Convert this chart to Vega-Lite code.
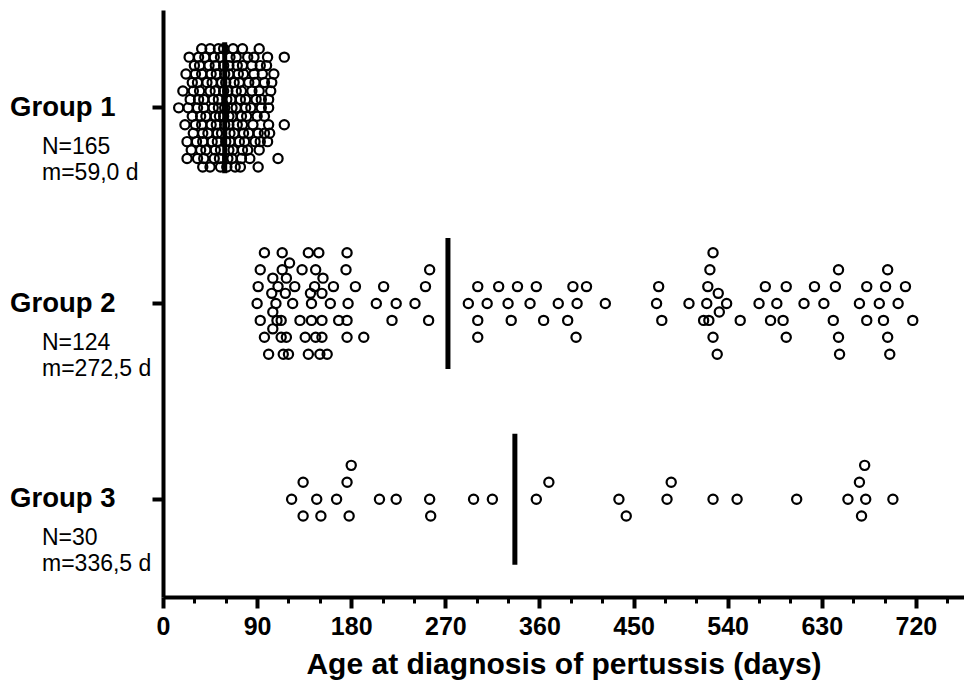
{
  "$schema": "https://vega.github.io/schema/vega-lite/v6.json",
  "description": "Age at diagnosis of pertussis by group: one circle per case, stacked in slots around each group's row, with a thick bar at the group median.",
  "width": 801,
  "height": 587,
  "autosize": {"type": "none"},
  "padding": {"left": 163, "top": 10, "right": 0, "bottom": 87},
  "background": "white",
  "config": {
    "view": {"stroke": null},
    "font": "Liberation Sans",
    "axis": {"grid": false, "labelOverlap": false},
    "axisX": {
      "labelFlush": false,
      "labelOverlap": false,
      "labelBound": false,
      "labelFont": "Liberation Sans",
      "labelFontWeight": "bold",
      "labelFontSize": 25,
      "labelColor": "black",
      "labelPadding": 6,
      "domainColor": "black",
      "domainWidth": 4,
      "tickColor": "black",
      "titleFont": "Liberation Sans",
      "titleFontWeight": "bold",
      "titleFontSize": 30,
      "titleColor": "black",
      "titlePadding": 10
    }
  },
  "datasets": {
    "cases": [
      {"g":"Group 1","age":37,"slot":-3.5},{"g":"Group 1","age":45,"slot":-3.5},{"g":"Group 1","age":53,"slot":-3.5},{"g":"Group 1","age":58,"slot":-3.5},{"g":"Group 1","age":67,"slot":-3.5},{"g":"Group 1","age":76,"slot":-3.5},{"g":"Group 1","age":92,"slot":-3.5},
      {"g":"Group 1","age":25,"slot":-3},{"g":"Group 1","age":34,"slot":-3},{"g":"Group 1","age":40,"slot":-3},{"g":"Group 1","age":49,"slot":-3},{"g":"Group 1","age":55,"slot":-3},{"g":"Group 1","age":64,"slot":-3},{"g":"Group 1","age":70,"slot":-3},{"g":"Group 1","age":81,"slot":-3},{"g":"Group 1","age":87,"slot":-3},{"g":"Group 1","age":100,"slot":-3},{"g":"Group 1","age":116,"slot":-3},
      {"g":"Group 1","age":30,"slot":-2.5},{"g":"Group 1","age":35,"slot":-2.5},{"g":"Group 1","age":44,"slot":-2.5},{"g":"Group 1","age":50,"slot":-2.5},{"g":"Group 1","age":58,"slot":-2.5},{"g":"Group 1","age":63,"slot":-2.5},{"g":"Group 1","age":71,"slot":-2.5},{"g":"Group 1","age":76,"slot":-2.5},{"g":"Group 1","age":85,"slot":-2.5},{"g":"Group 1","age":93,"slot":-2.5},{"g":"Group 1","age":99,"slot":-2.5},
      {"g":"Group 1","age":22,"slot":-2},{"g":"Group 1","age":31,"slot":-2},{"g":"Group 1","age":37,"slot":-2},{"g":"Group 1","age":46,"slot":-2},{"g":"Group 1","age":51,"slot":-2},{"g":"Group 1","age":59,"slot":-2},{"g":"Group 1","age":63,"slot":-2},{"g":"Group 1","age":72,"slot":-2},{"g":"Group 1","age":77,"slot":-2},{"g":"Group 1","age":87,"slot":-2},{"g":"Group 1","age":95,"slot":-2},{"g":"Group 1","age":106,"slot":-2},
      {"g":"Group 1","age":28,"slot":-1.5},{"g":"Group 1","age":33,"slot":-1.5},{"g":"Group 1","age":42,"slot":-1.5},{"g":"Group 1","age":47,"slot":-1.5},{"g":"Group 1","age":56,"slot":-1.5},{"g":"Group 1","age":60,"slot":-1.5},{"g":"Group 1","age":68,"slot":-1.5},{"g":"Group 1","age":73,"slot":-1.5},{"g":"Group 1","age":82,"slot":-1.5},{"g":"Group 1","age":88,"slot":-1.5},{"g":"Group 1","age":97,"slot":-1.5},{"g":"Group 1","age":104,"slot":-1.5},
      {"g":"Group 1","age":19,"slot":-1},{"g":"Group 1","age":29,"slot":-1},{"g":"Group 1","age":35,"slot":-1},{"g":"Group 1","age":45,"slot":-1},{"g":"Group 1","age":50,"slot":-1},{"g":"Group 1","age":58,"slot":-1},{"g":"Group 1","age":62,"slot":-1},{"g":"Group 1","age":70,"slot":-1},{"g":"Group 1","age":75,"slot":-1},{"g":"Group 1","age":85,"slot":-1},{"g":"Group 1","age":92,"slot":-1},{"g":"Group 1","age":103,"slot":-1},
      {"g":"Group 1","age":26,"slot":-0.5},{"g":"Group 1","age":34,"slot":-0.5},{"g":"Group 1","age":39,"slot":-0.5},{"g":"Group 1","age":48,"slot":-0.5},{"g":"Group 1","age":53,"slot":-0.5},{"g":"Group 1","age":61,"slot":-0.5},{"g":"Group 1","age":65,"slot":-0.5},{"g":"Group 1","age":74,"slot":-0.5},{"g":"Group 1","age":79,"slot":-0.5},{"g":"Group 1","age":89,"slot":-0.5},{"g":"Group 1","age":94,"slot":-0.5},{"g":"Group 1","age":101,"slot":-0.5},
      {"g":"Group 1","age":15,"slot":0},{"g":"Group 1","age":24,"slot":0},{"g":"Group 1","age":33,"slot":0},{"g":"Group 1","age":39,"slot":0},{"g":"Group 1","age":48,"slot":0},{"g":"Group 1","age":53,"slot":0},{"g":"Group 1","age":59,"slot":0},{"g":"Group 1","age":66,"slot":0},{"g":"Group 1","age":70,"slot":0},{"g":"Group 1","age":79,"slot":0},{"g":"Group 1","age":84,"slot":0},{"g":"Group 1","age":94,"slot":0},{"g":"Group 1","age":101,"slot":0},
      {"g":"Group 1","age":28,"slot":0.5},{"g":"Group 1","age":36,"slot":0.5},{"g":"Group 1","age":41,"slot":0.5},{"g":"Group 1","age":50,"slot":0.5},{"g":"Group 1","age":54,"slot":0.5},{"g":"Group 1","age":58,"slot":0.5},{"g":"Group 1","age":63,"slot":0.5},{"g":"Group 1","age":66,"slot":0.5},{"g":"Group 1","age":75,"slot":0.5},{"g":"Group 1","age":80,"slot":0.5},{"g":"Group 1","age":90,"slot":0.5},{"g":"Group 1","age":97,"slot":0.5},
      {"g":"Group 1","age":21,"slot":1},{"g":"Group 1","age":31,"slot":1},{"g":"Group 1","age":37,"slot":1},{"g":"Group 1","age":46,"slot":1},{"g":"Group 1","age":51,"slot":1},{"g":"Group 1","age":59,"slot":1},{"g":"Group 1","age":63,"slot":1},{"g":"Group 1","age":71,"slot":1},{"g":"Group 1","age":76,"slot":1},{"g":"Group 1","age":86,"slot":1},{"g":"Group 1","age":101,"slot":1},{"g":"Group 1","age":116,"slot":1},
      {"g":"Group 1","age":29,"slot":1.5},{"g":"Group 1","age":38,"slot":1.5},{"g":"Group 1","age":43,"slot":1.5},{"g":"Group 1","age":52,"slot":1.5},{"g":"Group 1","age":56,"slot":1.5},{"g":"Group 1","age":64,"slot":1.5},{"g":"Group 1","age":68,"slot":1.5},{"g":"Group 1","age":77,"slot":1.5},{"g":"Group 1","age":82,"slot":1.5},{"g":"Group 1","age":91,"slot":1.5},{"g":"Group 1","age":97,"slot":1.5},{"g":"Group 1","age":102,"slot":1.5},
      {"g":"Group 1","age":23,"slot":2},{"g":"Group 1","age":32,"slot":2},{"g":"Group 1","age":38,"slot":2},{"g":"Group 1","age":47,"slot":2},{"g":"Group 1","age":52,"slot":2},{"g":"Group 1","age":60,"slot":2},{"g":"Group 1","age":64,"slot":2},{"g":"Group 1","age":73,"slot":2},{"g":"Group 1","age":78,"slot":2},{"g":"Group 1","age":88,"slot":2},{"g":"Group 1","age":93,"slot":2},{"g":"Group 1","age":100,"slot":2},
      {"g":"Group 1","age":27,"slot":2.5},{"g":"Group 1","age":36,"slot":2.5},{"g":"Group 1","age":41,"slot":2.5},{"g":"Group 1","age":50,"slot":2.5},{"g":"Group 1","age":55,"slot":2.5},{"g":"Group 1","age":63,"slot":2.5},{"g":"Group 1","age":67,"slot":2.5},{"g":"Group 1","age":76,"slot":2.5},{"g":"Group 1","age":81,"slot":2.5},{"g":"Group 1","age":92,"slot":2.5},
      {"g":"Group 1","age":23,"slot":3},{"g":"Group 1","age":33,"slot":3},{"g":"Group 1","age":39,"slot":3},{"g":"Group 1","age":49,"slot":3},{"g":"Group 1","age":54,"slot":3},{"g":"Group 1","age":62,"slot":3},{"g":"Group 1","age":66,"slot":3},{"g":"Group 1","age":75,"slot":3},{"g":"Group 1","age":83,"slot":3},{"g":"Group 1","age":110,"slot":3},
      {"g":"Group 1","age":38,"slot":3.5},{"g":"Group 1","age":45,"slot":3.5},{"g":"Group 1","age":55,"slot":3.5},{"g":"Group 1","age":61,"slot":3.5},{"g":"Group 1","age":69,"slot":3.5},{"g":"Group 1","age":74,"slot":3.5},{"g":"Group 1","age":91,"slot":3.5},

      {"g":"Group 2","age":97,"slot":-3},{"g":"Group 2","age":114,"slot":-3},{"g":"Group 2","age":139,"slot":-3},{"g":"Group 2","age":149,"slot":-3},{"g":"Group 2","age":176,"slot":-3},{"g":"Group 2","age":526,"slot":-3},
      {"g":"Group 2","age":121,"slot":-2.4},
      {"g":"Group 2","age":93,"slot":-2},{"g":"Group 2","age":114,"slot":-2},{"g":"Group 2","age":133,"slot":-2},{"g":"Group 2","age":146,"slot":-2},{"g":"Group 2","age":175,"slot":-2},{"g":"Group 2","age":255,"slot":-2},{"g":"Group 2","age":523,"slot":-2},{"g":"Group 2","age":646,"slot":-2},{"g":"Group 2","age":693,"slot":-2},
      {"g":"Group 2","age":105,"slot":-1.5},{"g":"Group 2","age":118,"slot":-1.5},{"g":"Group 2","age":153,"slot":-1.5},
      {"g":"Group 2","age":91,"slot":-1},{"g":"Group 2","age":110,"slot":-1},{"g":"Group 2","age":126,"slot":-1},{"g":"Group 2","age":145,"slot":-1},{"g":"Group 2","age":163,"slot":-1},{"g":"Group 2","age":184,"slot":-1},{"g":"Group 2","age":211,"slot":-1},{"g":"Group 2","age":251,"slot":-1},{"g":"Group 2","age":301,"slot":-1},{"g":"Group 2","age":321,"slot":-1},{"g":"Group 2","age":339,"slot":-1},{"g":"Group 2","age":357,"slot":-1},{"g":"Group 2","age":392,"slot":-1},{"g":"Group 2","age":405,"slot":-1},{"g":"Group 2","age":474,"slot":-1},{"g":"Group 2","age":521,"slot":-1},{"g":"Group 2","age":576,"slot":-1},{"g":"Group 2","age":596,"slot":-1},{"g":"Group 2","age":623,"slot":-1},{"g":"Group 2","age":643,"slot":-1},{"g":"Group 2","age":673,"slot":-1},{"g":"Group 2","age":691,"slot":-1},{"g":"Group 2","age":710,"slot":-1},
      {"g":"Group 2","age":104,"slot":-0.6},{"g":"Group 2","age":117,"slot":-0.6},{"g":"Group 2","age":141,"slot":-0.6},{"g":"Group 2","age":152,"slot":-0.6},{"g":"Group 2","age":531,"slot":-0.6},
      {"g":"Group 2","age":90,"slot":0},{"g":"Group 2","age":108,"slot":0},{"g":"Group 2","age":124,"slot":0},{"g":"Group 2","age":142,"slot":0},{"g":"Group 2","age":160,"slot":0},{"g":"Group 2","age":177,"slot":0},{"g":"Group 2","age":204,"slot":0},{"g":"Group 2","age":223,"slot":0},{"g":"Group 2","age":241,"slot":0},{"g":"Group 2","age":292,"slot":0},{"g":"Group 2","age":310,"slot":0},{"g":"Group 2","age":330,"slot":0},{"g":"Group 2","age":351,"slot":0},{"g":"Group 2","age":378,"slot":0},{"g":"Group 2","age":396,"slot":0},{"g":"Group 2","age":423,"slot":0},{"g":"Group 2","age":472,"slot":0},{"g":"Group 2","age":503,"slot":0},{"g":"Group 2","age":520,"slot":0},{"g":"Group 2","age":539,"slot":0},{"g":"Group 2","age":570,"slot":0},{"g":"Group 2","age":587,"slot":0},{"g":"Group 2","age":613,"slot":0},{"g":"Group 2","age":632,"slot":0},{"g":"Group 2","age":666,"slot":0},{"g":"Group 2","age":685,"slot":0},{"g":"Group 2","age":703,"slot":0},
      {"g":"Group 2","age":105,"slot":0.5},{"g":"Group 2","age":532,"slot":0.5},
      {"g":"Group 2","age":93,"slot":1},{"g":"Group 2","age":109,"slot":1},{"g":"Group 2","age":113,"slot":1},{"g":"Group 2","age":131,"slot":1},{"g":"Group 2","age":142,"slot":1},{"g":"Group 2","age":152,"slot":1},{"g":"Group 2","age":168,"slot":1},{"g":"Group 2","age":176,"slot":1},{"g":"Group 2","age":219,"slot":1},{"g":"Group 2","age":254,"slot":1},{"g":"Group 2","age":301,"slot":1},{"g":"Group 2","age":333,"slot":1},{"g":"Group 2","age":364,"slot":1},{"g":"Group 2","age":387,"slot":1},{"g":"Group 2","age":477,"slot":1},{"g":"Group 2","age":517,"slot":1},{"g":"Group 2","age":522,"slot":1},{"g":"Group 2","age":552,"slot":1},{"g":"Group 2","age":581,"slot":1},{"g":"Group 2","age":593,"slot":1},{"g":"Group 2","age":641,"slot":1},{"g":"Group 2","age":673,"slot":1},{"g":"Group 2","age":689,"slot":1},{"g":"Group 2","age":717,"slot":1},
      {"g":"Group 2","age":105,"slot":1.5},
      {"g":"Group 2","age":97,"slot":2},{"g":"Group 2","age":113,"slot":2},{"g":"Group 2","age":118,"slot":2},{"g":"Group 2","age":136,"slot":2},{"g":"Group 2","age":146,"slot":2},{"g":"Group 2","age":152,"slot":2},{"g":"Group 2","age":176,"slot":2},{"g":"Group 2","age":192,"slot":2},{"g":"Group 2","age":301,"slot":2},{"g":"Group 2","age":395,"slot":2},{"g":"Group 2","age":526,"slot":2},{"g":"Group 2","age":596,"slot":2},{"g":"Group 2","age":646,"slot":2},{"g":"Group 2","age":693,"slot":2},
      {"g":"Group 2","age":101,"slot":3},{"g":"Group 2","age":115,"slot":3},{"g":"Group 2","age":120,"slot":3},{"g":"Group 2","age":139,"slot":3},{"g":"Group 2","age":150,"slot":3},{"g":"Group 2","age":157,"slot":3},{"g":"Group 2","age":530,"slot":3},{"g":"Group 2","age":647,"slot":3},{"g":"Group 2","age":695,"slot":3},

      {"g":"Group 3","age":180,"slot":-2},{"g":"Group 3","age":671,"slot":-2},
      {"g":"Group 3","age":134,"slot":-1},{"g":"Group 3","age":176,"slot":-1},{"g":"Group 3","age":369,"slot":-1},{"g":"Group 3","age":486,"slot":-1},{"g":"Group 3","age":666,"slot":-1},
      {"g":"Group 3","age":123,"slot":0},{"g":"Group 3","age":147,"slot":0},{"g":"Group 3","age":166,"slot":0},{"g":"Group 3","age":207,"slot":0},{"g":"Group 3","age":223,"slot":0},{"g":"Group 3","age":255,"slot":0},{"g":"Group 3","age":297,"slot":0},{"g":"Group 3","age":315,"slot":0},{"g":"Group 3","age":357,"slot":0},{"g":"Group 3","age":436,"slot":0},{"g":"Group 3","age":482,"slot":0},{"g":"Group 3","age":526,"slot":0},{"g":"Group 3","age":549,"slot":0},{"g":"Group 3","age":606,"slot":0},{"g":"Group 3","age":655,"slot":0},{"g":"Group 3","age":672,"slot":0},{"g":"Group 3","age":698,"slot":0},
      {"g":"Group 3","age":134,"slot":1},{"g":"Group 3","age":151,"slot":1},{"g":"Group 3","age":178,"slot":1},{"g":"Group 3","age":256,"slot":1},{"g":"Group 3","age":443,"slot":1},{"g":"Group 3","age":668,"slot":1}
    ],
    "groups": [
      {"g":"Group 1","n":165,"median":59.0,"nLabel":"N=165","mLabel":"m=59,0 d"},
      {"g":"Group 2","n":124,"median":272.5,"nLabel":"N=124","mLabel":"m=272,5 d"},
      {"g":"Group 3","n":30,"median":336.5,"nLabel":"N=30","mLabel":"m=336,5 d"}
    ]
  },
  "encoding": {
    "y": {
      "field": "g",
      "type": "nominal",
      "scale": {"domain": ["Group 1", "Group 2", "Group 3"], "paddingInner": 0, "paddingOuter": 0},
      "axis": {
        "title": null,
        "domainColor": "black",
        "domainWidth": 4,
        "tickColor": "black",
        "tickWidth": 4,
        "tickSize": 11,
        "labelFont": "Liberation Sans",
        "labelFontWeight": "bold",
        "labelFontSize": 27.5,
        "labelColor": "black",
        "labelPadding": 37
      }
    }
  },
  "layer": [
    {
      "data": {"name": "cases"},
      "mark": {"type": "point", "shape": "circle", "filled": false, "stroke": "black", "strokeWidth": 2.2, "size": 85, "opacity": 1},
      "encoding": {
        "x": {
          "field": "age",
          "type": "quantitative",
          "scale": {"domain": [0, 766], "nice": false},
          "axis": {
            "values": [0, 30, 60, 90, 120, 150, 180, 210, 240, 270, 300, 330, 360, 390, 420, 450, 480, 510, 540, 570, 600, 630, 660, 690, 720, 750],
            "labelExpr": "datum.value % 90 === 0 ? datum.label : ''",
            "format": "d",
            "labelOverlap": false,
            "tickSize": {"condition": {"test": "datum.value % 90 === 0", "value": 11}, "value": 6},
            "tickWidth": {"condition": {"test": "datum.value % 90 === 0", "value": 4}, "value": 3},
            "title": "Age at diagnosis of pertussis (days)"
          }
        },
        "yOffset": {
          "field": "slot",
          "type": "quantitative",
          "scale": {"domain": [-5.79, 5.79], "range": [0, 195.67]}
        }
      }
    },
    {
      "data": {"name": "groups"},
      "mark": {"type": "tick", "color": "black", "size": 131, "thickness": 5, "opacity": 1},
      "encoding": {
        "x": {
          "field": "median",
          "type": "quantitative",
          "axis": {
            "values": [0, 30, 60, 90, 120, 150, 180, 210, 240, 270, 300, 330, 360, 390, 420, 450, 480, 510, 540, 570, 600, 630, 660, 690, 720, 750],
            "labelExpr": "datum.value % 90 === 0 ? datum.label : ''",
            "format": "d",
            "labelOverlap": false,
            "tickSize": {"condition": {"test": "datum.value % 90 === 0", "value": 11}, "value": 6},
            "tickWidth": {"condition": {"test": "datum.value % 90 === 0", "value": 4}, "value": 3},
            "title": "Age at diagnosis of pertussis (days)"
          }
        }
      }
    },
    {
      "data": {"name": "groups"},
      "mark": {"type": "text", "align": "left", "baseline": "alphabetic", "dx": -121, "dy": 46, "font": "Liberation Sans", "fontSize": 23, "color": "black"},
      "encoding": {
        "x": {
          "datum": 0,
          "type": "quantitative",
          "axis": {
            "values": [0, 30, 60, 90, 120, 150, 180, 210, 240, 270, 300, 330, 360, 390, 420, 450, 480, 510, 540, 570, 600, 630, 660, 690, 720, 750],
            "labelExpr": "datum.value % 90 === 0 ? datum.label : ''",
            "format": "d",
            "labelOverlap": false,
            "tickSize": {"condition": {"test": "datum.value % 90 === 0", "value": 11}, "value": 6},
            "tickWidth": {"condition": {"test": "datum.value % 90 === 0", "value": 4}, "value": 3},
            "title": "Age at diagnosis of pertussis (days)"
          }
        },
        "text": {"field": "nLabel"}
      }
    },
    {
      "data": {"name": "groups"},
      "mark": {"type": "text", "align": "left", "baseline": "alphabetic", "dx": -121, "dy": 72, "font": "Liberation Sans", "fontSize": 23, "color": "black"},
      "encoding": {
        "x": {
          "datum": 0,
          "type": "quantitative",
          "axis": {
            "values": [0, 30, 60, 90, 120, 150, 180, 210, 240, 270, 300, 330, 360, 390, 420, 450, 480, 510, 540, 570, 600, 630, 660, 690, 720, 750],
            "labelExpr": "datum.value % 90 === 0 ? datum.label : ''",
            "format": "d",
            "labelOverlap": false,
            "tickSize": {"condition": {"test": "datum.value % 90 === 0", "value": 11}, "value": 6},
            "tickWidth": {"condition": {"test": "datum.value % 90 === 0", "value": 4}, "value": 3},
            "title": "Age at diagnosis of pertussis (days)"
          }
        },
        "text": {"field": "mLabel"}
      }
    }
  ]
}
